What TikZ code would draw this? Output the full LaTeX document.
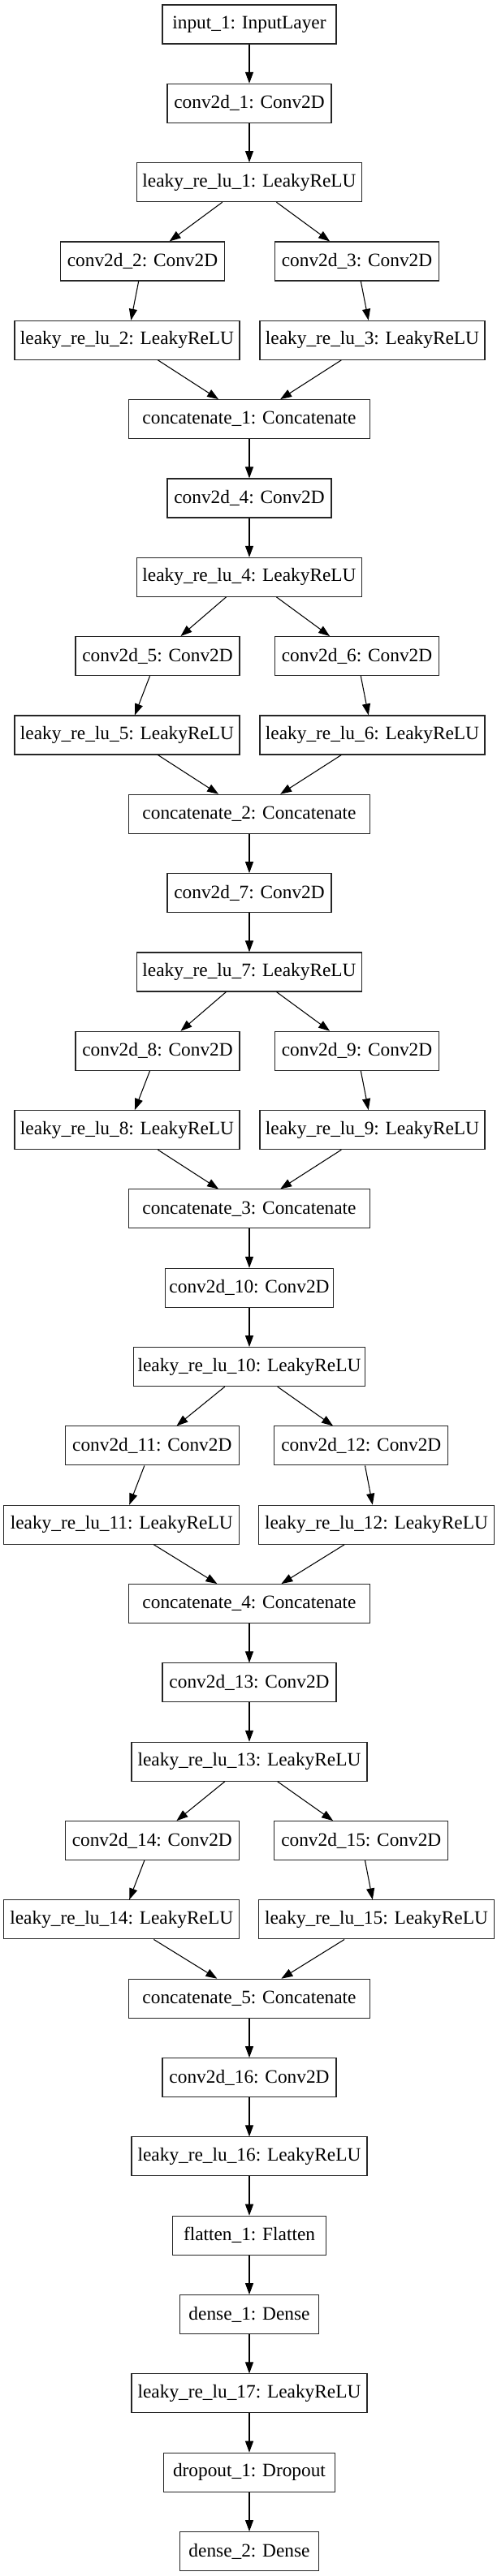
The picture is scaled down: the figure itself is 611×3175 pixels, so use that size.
\documentclass[tikz,border=0pt]{standalone}
\usepackage{fontspec}
\setmainfont{Liberation Serif}
\usepackage{tikz}
\usetikzlibrary{arrows.meta}

\tikzset{
  layer/.style={draw=black!85, line width=0.8pt, rectangle, minimum height=36pt, inner xsep=4pt, font=\fontsize{17.5}{19}\selectfont},
  flow/.style={line width=0.8pt, -{Triangle[length=10.5pt,width=7.5pt]}}
}

\begin{document}
\begin{tikzpicture}[x=0.75pt, y=-0.75pt]
\useasboundingbox (0,0) rectangle (611,3175);
% stem
\node[layer, minimum width=160.5pt] (in1) at (307,30) {input\_1: InputLayer};
\node[layer, minimum width=151.5pt] (c1) at (307,127.33) {conv2d\_1: Conv2D};
\node[layer, minimum width=207.75pt] (l1) at (307,224.66) {leaky\_re\_lu\_1: LeakyReLU};
\draw[flow] (in1) -- (c1);
\draw[flow] (c1) -- (l1);
% five split/concat blocks
\foreach \b/\cl/\cr/\ll/\lr/\wc/\wl in {1/175.5/439.5/156.5/458.5/151.5/207.75, 2/194/439.5/156.5/458.5/151.5/207.75, 3/194/439.5/156.5/458.5/151.5/207.75, 4/187.3/444.8/149.75/463.5/160.5/217.5, 5/187.3/444.8/149.75/463.5/160.5/217.5}
{
  \pgfmathtruncatemacro{\i}{3*\b-1}
  \pgfmathtruncatemacro{\j}{3*\b}
  \pgfmathtruncatemacro{\m}{3*\b+1}
  \pgfmathtruncatemacro{\p}{3*\b-2}
  \pgfmathsetmacro{\y}{30+97.33*(5*\b-2)}
  \node[layer, minimum width=\wc pt] (c\i) at (\cl,\y) {conv2d\_\i: Conv2D};
  \node[layer, minimum width=\wc pt] (c\j) at (\cr,\y) {conv2d\_\j: Conv2D};
  \node[layer, minimum width=\wl pt] (l\i) at (\ll,\y+97.33) {leaky\_re\_lu\_\i: LeakyReLU};
  \node[layer, minimum width=\wl pt] (l\j) at (\lr,\y+97.33) {leaky\_re\_lu\_\j: LeakyReLU};
  \node[layer, minimum width=222.75pt] (cat\b) at (307,\y+194.66) {concatenate\_\b: Concatenate};
  \node[layer, minimum width=\wc pt] (c\m) at (307,\y+291.99) {conv2d\_\m: Conv2D};
  \node[layer, minimum width=\wl pt] (l\m) at (307,\y+389.32) {leaky\_re\_lu\_\m: LeakyReLU};
  \draw[flow] (l\p) -- (c\i);
  \draw[flow] (l\p) -- (c\j);
  \draw[flow] (c\i) -- (l\i);
  \draw[flow] (c\j) -- (l\j);
  \draw[flow] (l\i) -- (cat\b);
  \draw[flow] (l\j) -- (cat\b);
  \draw[flow] (cat\b) -- (c\m);
  \draw[flow] (c\m) -- (l\m);
}
% head
\node[layer, minimum width=142pt] (fl1) at (307,2755.24) {flatten\_1: Flatten};
\node[layer, minimum width=128.6pt] (d1) at (307,2852.57) {dense\_1: Dense};
\node[layer, minimum width=217.5pt] (l17) at (307,2949.9) {leaky\_re\_lu\_17: LeakyReLU};
\node[layer, minimum width=158pt] (dr1) at (307,3047.23) {dropout\_1: Dropout};
\node[layer, minimum width=128.6pt] (d2) at (307,3144.56) {dense\_2: Dense};
\draw[flow] (l16) -- (fl1);
\draw[flow] (fl1) -- (d1);
\draw[flow] (d1) -- (l17);
\draw[flow] (l17) -- (dr1);
\draw[flow] (dr1) -- (d2);
\end{tikzpicture}
\end{document}
